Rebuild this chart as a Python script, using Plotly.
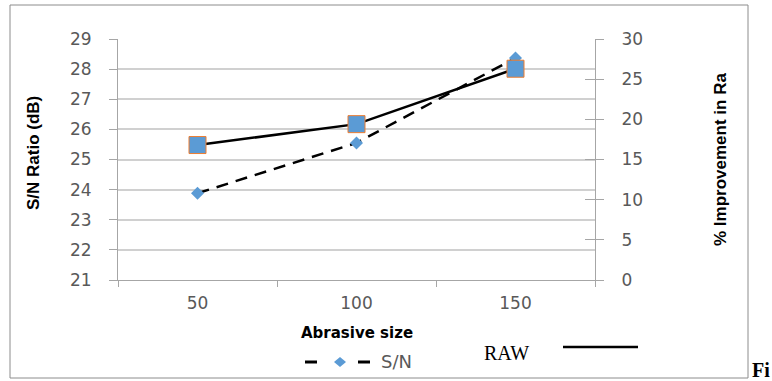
import plotly.graph_objects as go

# ---- data ----
categories = ["50", "100", "150"]
sn_ratio = [23.88, 25.55, 28.37]          # S/N Ratio (dB), left axis
raw_improvement = [16.8, 19.4, 26.3]      # % Improvement in Ra, right axis
left_ticks = list(range(21, 30))
right_ticks = list(range(0, 31, 5))

# ---- pixel helpers (plot area in px) ----
L, R, T, B = 118, 595, 39, 280
W, H = R - L, B - T
def px(x):
    return (x - L) / W
def py(y):
    return (B - y) / H

TICK_FONT = dict(family="DejaVu Sans", size=17, color="#595959")
TITLE_FONT = dict(family="Liberation Sans Narrow, Liberation Sans", size=17, color="#000000")
AXIS_COLOR = "#A6A6A6"
GRID_COLOR = "#D0D0D0"
BLUE = "#5B9BD5"
ORANGE = "#ED7D31"

fig = go.Figure()

fig.add_trace(go.Scatter(
    x=categories, y=sn_ratio, name="S/N", mode="lines+markers",
    line=dict(color="black", width=2.5, dash="12px,8px"),
    marker=dict(symbol="diamond", size=10, color=BLUE),
    yaxis="y", showlegend=False,
))
fig.add_trace(go.Scatter(
    x=categories, y=raw_improvement, name="RAW", mode="lines+markers",
    line=dict(color="black", width=2.5),
    marker=dict(symbol="square", size=17, color=BLUE, line=dict(color=ORANGE, width=1)),
    yaxis="y2", showlegend=False,
))

fig.update_layout(
    width=772, height=381, autosize=False,
    margin=dict(l=L, r=772 - R, t=T, b=381 - B, pad=0),
    paper_bgcolor="white", plot_bgcolor="white",
    xaxis=dict(
        type="category", categoryorder="array", categoryarray=categories,
        range=[-0.5, 2.5], tickson="boundaries", ticks="outside", ticklen=6,
        tickcolor=AXIS_COLOR, showline=True, linecolor=AXIS_COLOR, linewidth=1,
        showgrid=False, zeroline=False, tickfont=TICK_FONT, ticklabelstandoff=8,
    ),
    yaxis=dict(
        range=[21, 29], tickvals=left_ticks, ticks="outside", ticklen=8,
        tickcolor=AXIS_COLOR, showline=True, linecolor=AXIS_COLOR, linewidth=1,
        showgrid=True, gridcolor=GRID_COLOR, gridwidth=1.5, zeroline=False,
        tickfont=TICK_FONT, ticklabelstandoff=14,
    ),
    yaxis2=dict(
        range=[0, 30], tickvals=right_ticks, overlaying="y", side="right",
        ticks="outside", ticklen=8, tickcolor=AXIS_COLOR, showline=True,
        linecolor=AXIS_COLOR, linewidth=1, showgrid=False, zeroline=False,
        tickfont=TICK_FONT, ticklabelstandoff=14,
    ),
    yaxis3=dict(
        range=[0, 30], tickvals=right_ticks, overlaying="y", side="right",
        ticks="inside", ticklen=10, tickcolor=AXIS_COLOR, showline=False,
        showgrid=False, zeroline=False, showticklabels=False,
    ),
)
# invisible trace so the cross-tick axis (y3) is drawn
fig.add_trace(go.Scatter(x=categories, y=raw_improvement, yaxis="y3",
                         mode="none", showlegend=False, hoverinfo="skip"))

annotations = [
    dict(text="<b>S/N Ratio (dB)</b>", x=px(33), y=py(153), textangle=-90,
         font=TITLE_FONT),
    dict(text="<b>% Improvement in Ra</b>", x=px(720), y=py(160), textangle=-90,
         font=TITLE_FONT),
    dict(text="<b>Abrasive size</b>", x=px(357), y=py(333),
         font=dict(family="DejaVu Sans", size=15, color="#000000")),
    dict(text="S/N", x=px(379), y=py(361), xanchor="left",
         font=dict(family="DejaVu Sans", size=18, color="#595959")),
    dict(text="RAW", x=px(482), y=py(353), xanchor="left",
         font=dict(family="Liberation Serif", size=20, color="#000000")),
    dict(text="<b>Fi</b>", x=px(750), y=py(357), xanchor="left", yanchor="top",
         font=dict(family="Liberation Serif", size=20, color="#000000")),
]
for a in annotations:
    a.setdefault("xref", "paper")
    a.setdefault("yref", "paper")
    a.setdefault("showarrow", False)
    a.setdefault("xanchor", "center")
    a.setdefault("yanchor", "middle")
fig.update_layout(annotations=annotations)

shapes = [
    # outer chart frame
    dict(type="rect", x0=px(10), x1=px(748), y0=py(378), y1=py(5),
         line=dict(color="#8C8C8C", width=1)),
    # legend key for S/N
    dict(type="line", x0=px(305), x1=px(317), y0=py(362), y1=py(362),
         line=dict(color="black", width=3)),
    dict(type="line", x0=px(358), x1=px(370), y0=py(362), y1=py(362),
         line=dict(color="black", width=3)),
    dict(type="path",
         path=f"M {px(334)},{py(362)} L {px(340)},{py(357)} L {px(346)},{py(362)} L {px(340)},{py(367)} Z",
         fillcolor=BLUE, line=dict(color=BLUE, width=0)),
    # RAW key line
    dict(type="line", x0=px(563), x1=px(638), y0=py(347), y1=py(347),
         line=dict(color="black", width=2.5)),
]
for s in shapes:
    s["xref"] = "paper"
    s["yref"] = "paper"
fig.update_layout(shapes=shapes)

fig.write_html("out.html")
